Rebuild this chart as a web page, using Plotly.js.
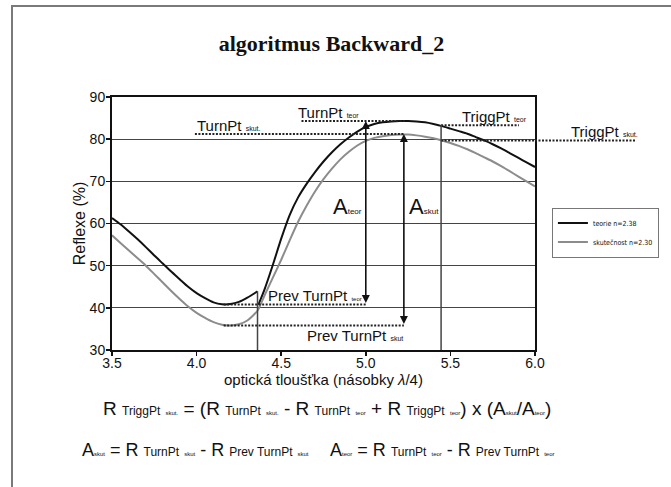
<!DOCTYPE html>
<html>
<head>
<meta charset="utf-8">
<script src="https://cdn.plot.ly/plotly-3.0.1.min.js"></script>
<style>
  html, body { margin: 0; padding: 0; background: #fff; }
  #wrap { position: relative; width: 671px; height: 487px; overflow: hidden; }
  #chart { position: absolute; left: 0; top: 0; width: 671px; height: 487px; }
  #frame { position: absolute; left: 11px; top: 5px; width: 700px; height: 600px;
           border-left: 2px solid #7a7a7a; border-top: 2px solid #7a7a7a; pointer-events: none; }
</style>
</head>
<body>
<div id="wrap"><div id="chart"></div><div id="frame"></div></div>
<script>
// ---- series: theory (two branches, before/after the previous layer boundary) ----
const xTeorBefore = [3.5, 3.55, 3.6, 3.65, 3.7, 3.75, 3.8, 3.85, 3.9, 3.95, 4.0, 4.05, 4.1, 4.15, 4.2, 4.25, 4.3, 4.36];
const yTeorBefore = [61.3, 59.8, 58.1, 56.3, 54.4, 52.4, 50.5, 48.6, 46.8, 45.0, 43.5, 42.3, 41.3, 40.85, 40.9, 41.4, 42.4, 43.9];
const xTeorAfter  = [4.365, 4.4, 4.45, 4.5, 4.55, 4.6, 4.65, 4.7, 4.75, 4.8, 4.85, 4.9, 4.95, 5.0, 5.05, 5.1, 5.15, 5.2, 5.25, 5.3, 5.35, 5.4, 5.45, 5.5, 5.55, 5.6, 5.65, 5.7, 5.75, 5.8, 5.85, 5.9, 5.95, 6.0];
const yTeorAfter  = [40.7, 44.2, 50.1, 56.4, 62.0, 66.2, 69.4, 72.2, 74.7, 76.9, 78.8, 80.4, 81.8, 82.9, 83.6, 84.0, 84.2, 84.3, 84.3, 84.2, 84.0, 83.6, 83.1, 82.5, 81.9, 81.3, 80.5, 79.7, 78.8, 77.8, 76.7, 75.6, 74.5, 73.4];
// ---- series: reality ----
const xSkut = [3.5, 3.55, 3.6, 3.65, 3.7, 3.75, 3.8, 3.85, 3.9, 3.95, 4.0, 4.05, 4.1, 4.15, 4.2, 4.25, 4.3, 4.36, 4.4, 4.45, 4.5, 4.55, 4.6, 4.65, 4.7, 4.75, 4.8, 4.85, 4.9, 4.95, 5.0, 5.05, 5.1, 5.15, 5.2, 5.25, 5.3, 5.35, 5.4, 5.45, 5.5, 5.55, 5.6, 5.65, 5.7, 5.75, 5.8, 5.85, 5.9, 5.95, 6.0];
const ySkut = [57.2, 55.4, 53.6, 51.8, 50.0, 48.0, 46.0, 44.0, 42.1, 40.3, 38.8, 37.6, 36.6, 36.0, 35.8, 36.1, 37.0, 39.3, 42.8, 47.1, 51.4, 56.0, 60.4, 64.2, 67.6, 70.5, 73.0, 75.2, 77.0, 78.5, 79.6, 80.3, 80.7, 81.0, 81.1, 81.1, 80.9, 80.6, 80.2, 79.7, 79.1, 78.4, 77.6, 76.7, 75.7, 74.7, 73.6, 72.4, 71.2, 70.0, 68.8];
const seriesNames = ["teorie n=2.38", "skutečnost n=2.30"];

// ---- characteristic levels (x-from, x-to, R) ----
const turnPtTeor     = [4.62, 5.23, 84.3];
const turnPtSkut     = [3.99, 5.225, 81.2];
const triggPtTeor    = [5.445, 5.905, 83.3];
const triggPtSkut    = [5.445, 6.0, 79.7];
const prevTurnPtTeor = [4.16, 5.0, 40.8];
const prevTurnPtSkut = [4.16, 5.225, 35.8];
const layerBoundaryX = 4.36;
const triggerX = 5.445;
const aTeorX = 5.0;
const aSkutX = 5.225;

// ---- axes ----
const xTicks = [3.5, 4.0, 4.5, 5.0, 5.5, 6.0];
const yTicks = [30, 40, 50, 60, 70, 80, 90];

const F = "Liberation Sans, Arial, sans-serif";
const sub = (t, s) => `<span style="font-size:${s}px">${t}</span>`;

const traces = [
  { x: [...xTeorBefore, null, ...xTeorAfter], y: [...yTeorBefore, null, ...yTeorAfter],
    name: seriesNames[0], mode: "lines", connectgaps: false,
    line: { color: "#111", width: 2, shape: "spline", smoothing: 0.6 } },
  { x: xSkut, y: ySkut, name: seriesNames[1], mode: "lines",
    line: { color: "#8c8c8c", width: 2, shape: "spline", smoothing: 0.6 } }
];

const dotted = { color: "#222", width: 2, dash: "2px,1.5px" };
function hline(lv) {
  return { type: "line", xref: "x", yref: "y", x0: lv[0], x1: lv[1], y0: lv[2], y1: lv[2], line: dotted, layer: "above" };
}
const shapes = [
  hline(turnPtTeor), hline(turnPtSkut), hline(triggPtTeor), hline(triggPtSkut),
  hline(prevTurnPtTeor), hline(prevTurnPtSkut),
  // continuation of TriggPt skut. beyond the plot frame
  { type: "line", xref: "paper", yref: "y", x0: 1.0, x1: 1.24, y0: triggPtSkut[2], y1: triggPtSkut[2], line: dotted },
  { type: "line", xref: "x", yref: "y", x0: layerBoundaryX, x1: layerBoundaryX, y0: 30, y1: yTeorBefore[yTeorBefore.length - 1], line: { color: "#444", width: 1.5 } },
  { type: "line", xref: "x", yref: "y", x0: triggerX, x1: triggerX, y0: 30, y1: triggPtTeor[2], line: { color: "#444", width: 1.5 } }
];

const lblFont = { family: F, size: 15, color: "#111" };
const annotations = [
  // arrows
  { x: aTeorX, y: turnPtTeor[2], ax: aTeorX, ay: prevTurnPtTeor[2], xref: "x", yref: "y", axref: "x", ayref: "y",
    text: "", showarrow: true, arrowside: "end+start", arrowhead: 2, arrowsize: 1, arrowwidth: 1.6, arrowcolor: "#111" },
  { x: aSkutX, y: turnPtSkut[2], ax: aSkutX, ay: prevTurnPtSkut[2], xref: "x", yref: "y", axref: "x", ayref: "y",
    text: "", showarrow: true, arrowside: "end+start", arrowhead: 2, arrowsize: 1, arrowwidth: 1.6, arrowcolor: "#111" },
  // labels inside the plot
  { x: turnPtSkut[0], y: turnPtSkut[2], xanchor: "left", yanchor: "bottom", yshift: -2, showarrow: false,
    text: "TurnPt " + sub("skut.", 7), font: lblFont },
  { x: turnPtTeor[0] - 0.03, y: turnPtTeor[2], xanchor: "left", yanchor: "bottom", yshift: -2, showarrow: false,
    text: "TurnPt " + sub("teor", 7), font: lblFont },
  { x: triggPtTeor[0] + 0.11, y: triggPtTeor[2], xanchor: "left", yanchor: "bottom", yshift: -2, showarrow: false,
    text: "TriggPt " + sub("teor", 7), font: lblFont },
  { x: 1.08, xref: "paper", y: triggPtSkut[2], yref: "y", xanchor: "left", yanchor: "bottom", yshift: -2, showarrow: false,
    text: "TriggPt " + sub("skut.", 7), font: lblFont },
  { x: layerBoundaryX + 0.05, y: prevTurnPtTeor[2], xanchor: "left", yanchor: "bottom", yshift: -2, showarrow: false,
    text: "Prev TurnPt " + sub("teor", 6), font: lblFont },
  { x: 4.64, y: prevTurnPtSkut[2], xanchor: "left", yanchor: "top", yshift: 1, showarrow: false,
    text: "Prev TurnPt " + sub("skut", 7), font: lblFont },
  { x: aTeorX, y: 64, xanchor: "right", yanchor: "middle", xshift: -2, showarrow: false,
    text: "A" + sub("teor", 8), font: { family: F, size: 22, color: "#111" } },
  { x: aSkutX, y: 64, xanchor: "left", yanchor: "middle", xshift: 3, showarrow: false,
    text: "A" + sub("skut", 8), font: { family: F, size: 22, color: "#111" } },
  // formulas below the chart
  { xref: "paper", yref: "paper", x: -0.027, y: -0.233, xanchor: "left", yanchor: "middle", showarrow: false,
    font: { family: F, size: 19, color: "#111" },
    text: "R " + sub("TriggPt", 12) + " " + sub("skut.", 6) + " = (R " + sub("TurnPt", 12) + " " + sub("skut.", 6) +
          " - R " + sub("TurnPt", 12) + " " + sub("teor", 6) + " + R " + sub("TriggPt", 12) + " " + sub("teor", 6) +
          ") x (A" + sub("skut", 6) + "/A" + sub("teor", 6) + ")" },
  { xref: "paper", yref: "paper", x: -0.075, y: -0.395, xanchor: "left", yanchor: "middle", showarrow: false,
    font: { family: F, size: 18, color: "#111" },
    text: "A" + sub("skut", 6) + " = R " + sub("TurnPt", 12) + " " + sub("skut", 6) + " - R " + sub("Prev TurnPt", 12) + " " + sub("skut", 6) },
  { xref: "paper", yref: "paper", x: 0.51, y: -0.395, xanchor: "left", yanchor: "middle", showarrow: false,
    font: { family: F, size: 18, color: "#111" },
    text: "A" + sub("teor", 6) + " = R " + sub("TurnPt", 12) + " " + sub("teor", 6) + " - R " + sub("Prev TurnPt", 12) + " " + sub("teor", 6) }
];

const layout = {
  width: 671, height: 487,
  margin: { l: 112, r: 125, t: 97, b: 137 },
  paper_bgcolor: "#fff", plot_bgcolor: "#fff",
  title: { text: "<b>algoritmus Backward_2</b>", font: { family: "Liberation Serif, Times New Roman, serif", size: 22, color: "#111" },
           xref: "container", yref: "container", x: 0.494, y: 0.912, xanchor: "center", yanchor: "middle" },
  xaxis: { range: [3.5, 6.0], tickvals: xTicks, ticktext: xTicks.map(v => v.toFixed(1)),
           showgrid: false, zeroline: false, showline: true, mirror: true, linecolor: "#111", linewidth: 2,
           ticks: "outside", ticklen: 4, tickwidth: 1.5, tickcolor: "#111", ticklabelstandoff: -5,
           tickfont: { family: F, size: 14, color: "#111" },
           title: { text: "optická tloušťka (násobky <i>λ</i>/4)", font: { family: F, size: 15, color: "#111" }, standoff: 0 } },
  yaxis: { range: [30, 90], tickvals: yTicks, showgrid: true, gridcolor: "#444", gridwidth: 1, zeroline: false,
           showline: true, mirror: true, linecolor: "#111", linewidth: 2,
           ticks: "outside", ticklen: 4, tickwidth: 1.5, tickcolor: "#111", ticklabelstandoff: -2,
           tickfont: { family: F, size: 14, color: "#111" },
           title: { text: "Reflexe (%)", font: { family: F, size: 16, color: "#111" }, standoff: 0 } },
  showlegend: true,
  legend: { x: 1.04, y: 0.563, xanchor: "left", yanchor: "top", bgcolor: "#fff", bordercolor: "#777", borderwidth: 1,
            font: { family: "Liberation Sans Narrow, DejaVu Sans Condensed, Arial Narrow, sans-serif", size: 7, color: "#111" },
            itemwidth: 30, tracegroupgap: 0 },
  shapes: shapes,
  annotations: annotations
};

Plotly.newPlot("chart", traces, layout, { displayModeBar: false, staticPlot: true });
</script>
</body>
</html>
